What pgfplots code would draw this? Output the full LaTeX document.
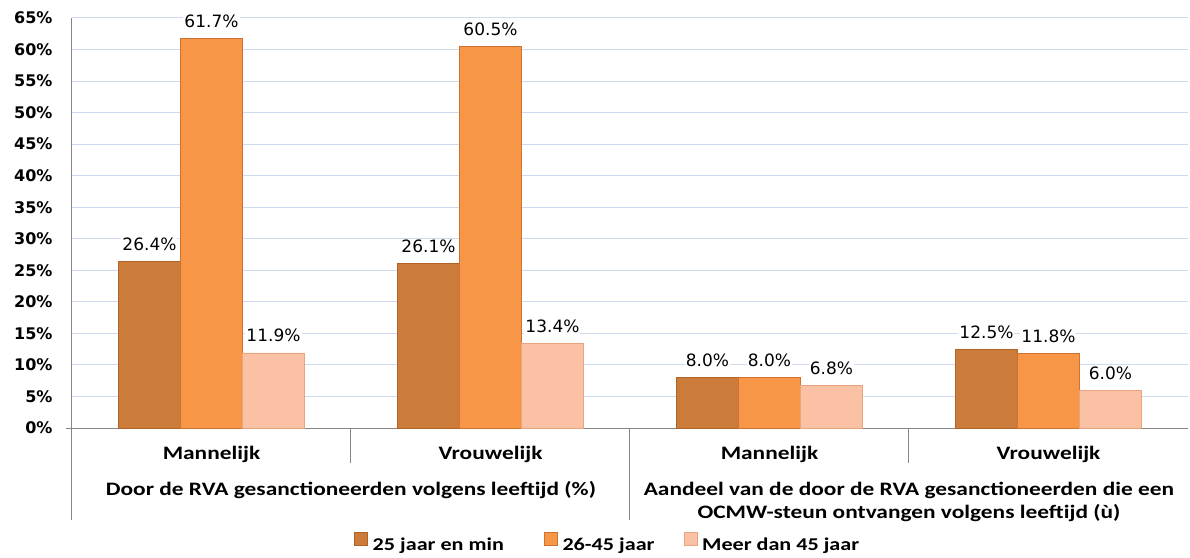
\documentclass[border=0pt]{standalone}
\usepackage{pgfplots}
\pgfplotsset{compat=1.18}
\usepackage{fontspec}
\setmainfont{Carlito}[FakeStretch=1.23]
\newfontfamily\dejavu{DejaVu Sans}
\definecolor{cA}{RGB}{204,124,58}
\definecolor{cB}{RGB}{247,150,70}
\definecolor{cC}{RGB}{250,193,165}
\definecolor{bA}{RGB}{178,100,40}
\definecolor{bB}{RGB}{205,115,50}
\definecolor{bC}{RGB}{232,165,125}
\definecolor{gridblue}{RGB}{205,218,240}
\definecolor{axisgray}{RGB}{134,134,134}
\begin{document}
\begin{tikzpicture}
\path[use as bounding box] (-72pt,-129pt) rectangle (1118pt,428pt);
\begin{axis}[
  at={(0,0)}, anchor=south west,
  scale only axis, width=1116pt, height=410pt,
  ybar=0pt, bar width=62pt,
  xmin=-0.5, xmax=3.5, ymin=0, ymax=65,
  ytick={0,5,...,65},
  axis lines=left, axis line style={-, draw=axisgray, line width=1pt},
  ymajorgrids, grid style={gridblue, line width=1pt},
  major tick length=0pt,
  xtick={0,1,2,3},
  xticklabels={Mannelijk,Vrouwelijk,Mannelijk,Vrouwelijk},
  x tick label style={font=\bfseries\fontsize{19}{22}\selectfont, anchor=base, yshift=-31pt},
  y tick label style={font=\dejavu\bfseries\fontsize{16}{18}\selectfont, xshift=-16pt},
  yticklabel={\pgfmathprintnumber{\tick}\%},
  /pgf/number format/assume math mode=true,
  clip=false,
  nodes near coords={\pgfmathprintnumber[fixed,fixed zerofill,precision=1,assume math mode=true]{\pgfplotspointmeta}\%},
  nodes near coords style={font=\dejavu\fontsize{17}{20}\selectfont, anchor=base, yshift=11pt, fill=white, inner sep=1pt, text=black},
  legend columns=3,
  legend style={draw=none, at={(0.480,-0.2805)}, anchor=center,
    font=\bfseries\fontsize{18}{22}\selectfont,
    /tikz/column 1/.style={column sep=3pt},
    /tikz/column 3/.style={column sep=3pt},
    /tikz/column 5/.style={column sep=3pt},
    /tikz/column 2/.style={column sep=38pt},
    /tikz/column 4/.style={column sep=27pt}},
  legend image code/.code={\draw[#1, line width=0.6pt] (0pt,-1pt) rectangle (13pt,12pt);},
]
\addplot[fill=cA, draw=bA, line width=0.8pt] coordinates {(0,26.4) (1,26.1) (2,8.0) (3,12.5)};
\addplot[fill=cB, draw=bB, line width=0.8pt] coordinates {(0,61.7) (1,60.5) (2,8.0) (3,11.8)};
\addplot[fill=cC, draw=bC, line width=0.8pt] coordinates {(0,11.9) (1,13.4) (2,6.8) (3,6.0)};
\legend{25 jaar en min, 26-45 jaar, Meer dan 45 jaar}
\draw[axisgray, line width=1pt] (axis cs:0.5,0) -- ([yshift=-35pt]axis cs:0.5,0);
\draw[axisgray, line width=1pt] (axis cs:2.5,0) -- ([yshift=-35pt]axis cs:2.5,0);
\draw[axisgray, line width=1pt] (axis cs:1.5,0) -- ([yshift=-92pt]axis cs:1.5,0);
\draw[axisgray, line width=1pt] (axis cs:-0.5,0) -- ([yshift=-92pt]axis cs:-0.5,0);
\draw[axisgray, line width=1pt] (axis cs:-0.5,0) -- ([xshift=-6pt]axis cs:-0.5,0);
\node[font=\bfseries\fontsize{19}{22}\selectfont, anchor=base] at ([yshift=-67pt]axis cs:0.5,0) {Door de RVA gesanctioneerden volgens leeftijd (\%)};
\node[font=\bfseries\fontsize{19}{22}\selectfont, anchor=base] at ([yshift=-67pt]axis cs:2.5,0) {Aandeel van de door de RVA gesanctioneerden die een};
\node[font=\bfseries\fontsize{19}{22}\selectfont, anchor=base] at ([yshift=-90pt]axis cs:2.5,0) {OCMW-steun ontvangen volgens leeftijd (ù)};
\end{axis}
\end{tikzpicture}
\end{document}
